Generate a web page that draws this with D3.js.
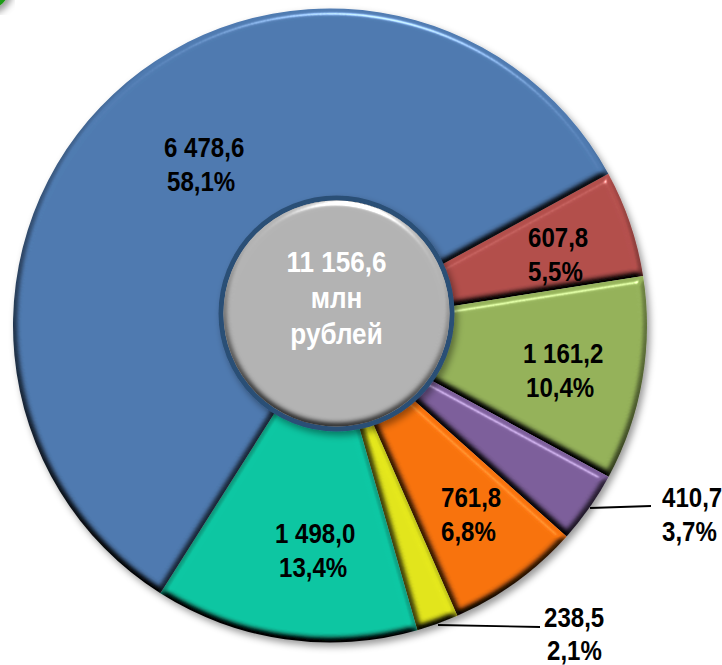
<!DOCTYPE html>
<html>
<head>
<meta charset="utf-8">
<script src="https://cdn.jsdelivr.net/npm/d3@7"></script>
<style>
    html, body { margin: 0; padding: 0; background: #fff; }
    text { font-family: "Liberation Sans", Arial, sans-serif; font-weight: bold; }
</style>
</head>
<body>
<div id="chart"></div>
<script>
// data, clockwise from the red slice
const categories = ["red", "green", "purple", "orange", "yellow", "teal", "blue"];
const values = [607.8, 1161.2, 410.7, 761.8, 238.5, 1498.0, 6478.6];
const valueLabels = ["607,8", "1 161,2", "410,7", "761,8", "238,5", "1 498,0", "6 478,6"];
const shareLabels = ["5,5%", "10,4%", "3,7%", "6,8%", "2,1%", "13,4%", "58,1%"];
const centerLines = ["11 156,6", "млн", "рублей"];

// layout
const colors = ["#b34f4c", "#95b25a", "#7d5f9b", "#f8730f", "#e2e51c", "#0fc6a2", "#4f7ab0"];
const labelLeft = [
    [528, 528], [523, 526], [662, 662], [441, 441], [544, 547], [275, 279], [164, 167]
];
const labelBase = [
    [247, 281], [363, 397], [507, 541], [507, 541], [627, 660], [543, 577], [157, 191]
];
const width = 722;
const height = 665;
const cx = 330;
const cy = 325.5;
const radius = 317;
const startDeg = 61.4;
const squeeze = 0.86;

const svg = d3.select("#chart")
    .append("svg")
    .attr("width", width)
    .attr("height", height)
    .style("display", "block");

const defs = svg.append("defs");

// bevel for the slices and the hub
function addBevel(id, blur, scale, shine) {
    const f = defs.append("filter")
        .attr("id", id)
        .attr("x", "-10%").attr("y", "-10%")
        .attr("width", "120%").attr("height", "120%")
        .attr("color-interpolation-filters", "sRGB");
    f.append("feGaussianBlur")
        .attr("in", "SourceAlpha")
        .attr("stdDeviation", blur)
        .attr("result", "bump");
    const elevation = 55;
    const diffuse = f.append("feDiffuseLighting")
        .attr("in", "bump")
        .attr("surfaceScale", scale)
        .attr("diffuseConstant", 1 / Math.sin(elevation * Math.PI / 180))
        .attr("lighting-color", "#fff")
        .attr("result", "diffuse");
    diffuse.append("feDistantLight").attr("azimuth", 280).attr("elevation", elevation);
    f.append("feComposite")
        .attr("in", "SourceGraphic")
        .attr("in2", "diffuse")
        .attr("operator", "arithmetic")
        .attr("k1", 1)
        .attr("result", "shaded");
    const spec = f.append("feSpecularLighting")
        .attr("in", "bump")
        .attr("surfaceScale", scale)
        .attr("specularConstant", shine)
        .attr("specularExponent", 40)
        .attr("lighting-color", "#fff")
        .attr("result", "spec");
    spec.append("feDistantLight").attr("azimuth", 280).attr("elevation", 30);
    f.append("feComposite")
        .attr("in", "spec")
        .attr("in2", "SourceAlpha")
        .attr("operator", "in")
        .attr("result", "specIn");
    f.append("feComposite")
        .attr("in", "shaded")
        .attr("in2", "specIn")
        .attr("operator", "arithmetic")
        .attr("k2", 1)
        .attr("k3", 1);
}
addBevel("bevel", 3.6, 7, 0.5);
addBevel("hubBevel", 3.2, 3.6, 0.6);

const shadow = defs.append("filter")
    .attr("id", "shadow")
    .attr("x", "-10%").attr("y", "-10%")
    .attr("width", "120%").attr("height", "120%");
shadow.append("feDropShadow")
    .attr("dx", 3).attr("dy", 4)
    .attr("stdDeviation", 3.5)
    .attr("flood-color", "#000")
    .attr("flood-opacity", 0.4);

// green corner from the slide behind the chart
svg.append("circle")
    .attr("cx", -14).attr("cy", -14)
    .attr("r", 24)
    .attr("fill", "#1c9a12")
    .attr("filter", "url(#shadow)");

const pie = d3.pie()
    .sort(null)
    .startAngle(startDeg * Math.PI / 180)
    .endAngle((startDeg + 360) * Math.PI / 180);

const arc = d3.arc().innerRadius(0).outerRadius(radius);

const slices = svg.append("g")
    .attr("transform", `translate(${cx},${cy})`)
    .attr("filter", "url(#shadow)");

slices.selectAll(".slice")
    .data(pie(values))
    .enter().append("path")
    .attr("class", "slice")
    .attr("data-category", (d, i) => categories[i])
    .attr("d", arc)
    .attr("fill", (d, i) => colors[i])
    .attr("filter", "url(#bevel)");

// hub
svg.append("circle")
    .attr("cx", 336.5).attr("cy", 313.5)
    .attr("r", 115.5)
    .attr("fill", "#b3b3b3")
    .attr("stroke", "#2c4f76")
    .attr("stroke-width", 5)
    .attr("filter", "url(#shadow)");
svg.append("circle")
    .attr("cx", 336.5).attr("cy", 313.5)
    .attr("r", 113)
    .attr("fill", "#b3b3b3")
    .attr("filter", "url(#hubBevel)");

// leader lines of the two outside labels
const leaders = [[[590, 508], [651, 506]], [[438, 625], [540, 627]]];
svg.selectAll(".leader")
    .data(leaders)
    .enter().append("path")
    .attr("class", "leader")
    .attr("d", d3.line())
    .attr("fill", "none")
    .attr("stroke", "#000")
    .attr("stroke-width", 1.8);

// Add labels
const labels = svg.selectAll(".label")
    .data(values)
    .enter().append("g")
    .attr("class", "label");

labels.append("text")
    .attr("transform", (d, i) => `translate(${labelLeft[i][0]},${labelBase[i][0]}) scale(${squeeze},1)`)
    .attr("font-size", 28)
    .attr("fill", "#000")
    .text((d, i) => valueLabels[i]);

labels.append("text")
    .attr("transform", (d, i) => `translate(${labelLeft[i][1]},${labelBase[i][1]}) scale(${squeeze},1)`)
    .attr("font-size", 28)
    .attr("fill", "#000")
    .text((d, i) => shareLabels[i]);

svg.selectAll(".center-label")
    .data(centerLines)
    .enter().append("text")
    .attr("class", "center-label")
    .attr("transform", (d, i) => `translate(336.5,${272 + i * 36}) scale(0.87,1)`)
    .attr("text-anchor", "middle")
    .attr("font-size", 30)
    .attr("fill", "#fff")
    .text(d => d);
</script>
</body>
</html>
